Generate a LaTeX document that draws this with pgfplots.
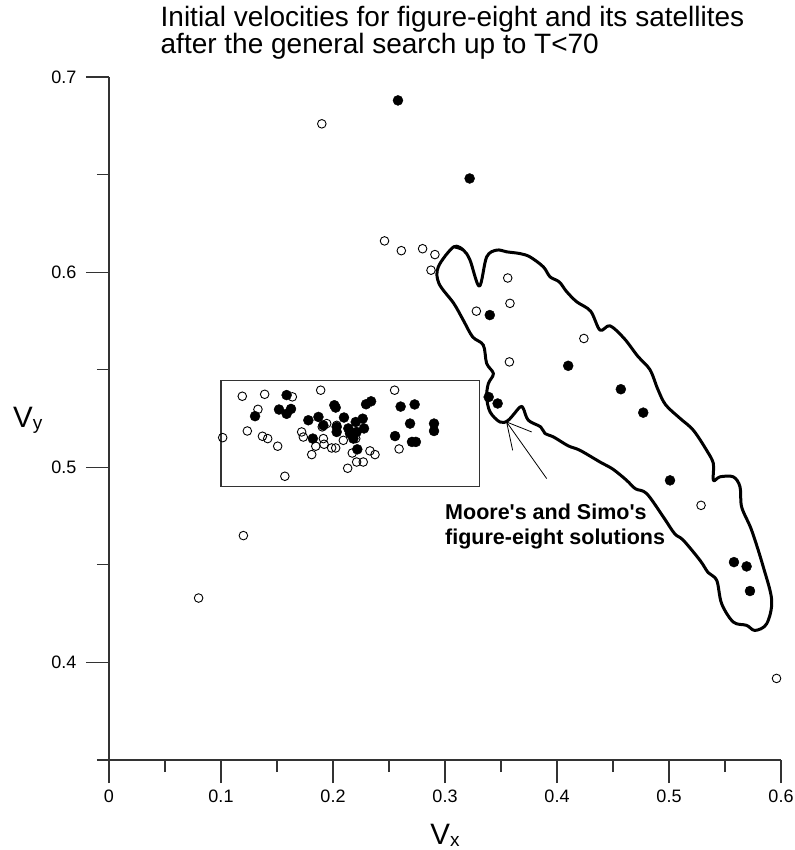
\documentclass[border=0pt]{standalone}
\usepackage{fontspec}
\setmainfont{Liberation Sans}
\usepackage{pgfplots}
\pgfplotsset{compat=1.18}

% open circles
\pgfplotstableread{
vx vy
0.080 0.433
0.120 0.465
0.190 0.676
0.246 0.616
0.261 0.611
0.280 0.612
0.291 0.609
0.2875 0.601
0.356 0.597
0.358 0.584
0.328 0.580
0.424 0.566
0.3575 0.554
0.5286 0.4805
0.596 0.3918
0.119 0.5364
0.139 0.5374
0.1637 0.5361
0.189 0.5395
0.255 0.5395
0.133 0.5297
0.1015 0.5152
0.1235 0.5186
0.137 0.5159
0.1417 0.5147
0.1506 0.5108
0.157 0.4954
0.172 0.5181
0.1735 0.5155
0.181 0.5065
0.1846 0.5108
0.1914 0.5147
0.192 0.5118
0.1904 0.5207
0.1944 0.5224
0.1988 0.5099
0.2024 0.5099
0.2033 0.5215
0.2092 0.5138
0.2131 0.4995
0.2172 0.5073
0.2211 0.5027
0.2270 0.5027
0.2330 0.5084
0.2375 0.5065
0.2590 0.5094
0.2203 0.5147
}\opendata

% filled circles
\pgfplotstableread{
vx vy
0.258 0.688
0.322 0.648
0.340 0.578
0.410 0.552
0.339 0.536
0.347 0.5327
0.457 0.540
0.477 0.528
0.5009 0.4933
0.558 0.4514
0.5693 0.4492
0.5723 0.4366
0.1304 0.5262
0.1518 0.5296
0.1586 0.5370
0.1586 0.5274
0.1625 0.5299
0.1780 0.5241
0.1820 0.5147
0.1870 0.5258
0.1914 0.5215
0.2012 0.5318
0.2024 0.5306
0.2033 0.5207
0.2033 0.5181
0.2098 0.5255
0.2137 0.5199
0.2152 0.5173
0.2182 0.5147
0.2203 0.5232
0.2211 0.5181
0.2265 0.5249
0.2277 0.5199
0.2295 0.5323
0.2340 0.5338
0.2217 0.5092
0.2604 0.5311
0.2729 0.5322
0.2554 0.5160
0.2688 0.5224
0.2705 0.5130
0.2740 0.5130
0.2902 0.5224
0.2902 0.5186
}\filleddata

% outline of the region round the figure-eight solutions
\pgfplotstableread{
vx vy
0.3078 0.6130
0.3164 0.6113
0.3223 0.6062
0.3307 0.5928
0.3372 0.6078
0.3462 0.6113
0.3551 0.6104
0.3670 0.6095
0.3759 0.6078
0.3878 0.6027
0.3938 0.5976
0.4020 0.5950
0.4086 0.5900
0.4176 0.5848
0.4300 0.5800
0.4384 0.5703
0.4473 0.5725
0.4600 0.5660
0.4720 0.5570
0.4830 0.5500
0.4900 0.5400
0.4970 0.5320
0.5100 0.5250
0.5217 0.5190
0.5336 0.5087
0.5396 0.5019
0.5396 0.4933
0.5455 0.4951
0.5574 0.4951
0.5634 0.4900
0.5649 0.4796
0.5738 0.4677
0.5842 0.4489
0.5917 0.4318
0.5872 0.4198
0.5768 0.4164
0.5693 0.4190
0.5574 0.4207
0.5470 0.4301
0.5426 0.4421
0.5350 0.4460
0.5277 0.4523
0.5128 0.4626
0.5050 0.4660
0.4950 0.4745
0.4801 0.4865
0.4700 0.4890
0.4622 0.4933
0.4500 0.4990
0.4384 0.5027
0.4205 0.5087
0.4100 0.5110
0.3970 0.5155
0.3893 0.5173
0.3854 0.5207
0.3744 0.5241
0.3700 0.5300
0.3670 0.5309
0.3565 0.5241
0.3491 0.5232
0.3402 0.5284
0.3372 0.5361
0.3387 0.5429
0.3432 0.5480
0.3372 0.5532
0.3342 0.5626
0.3247 0.5668
0.3163 0.5754
0.3078 0.5840
0.2946 0.5942
0.2940 0.6027
0.3078 0.6130
0.3164 0.6113
}\cloud

\begin{document}
\begin{tikzpicture}[x=1pt,y=1pt]
\path[use as bounding box] (0,0) rectangle (794,850);
\begin{axis}[
  at={(109pt,90pt)}, anchor=south west,
  scale only axis, width=672pt, height=683pt,
  xmin=0, xmax=0.6, ymin=0.35, ymax=0.7,
  axis x line=bottom, axis y line=left,
  axis line style={-, line width=1.2pt, draw=black!80},
  tick style={line width=1.2pt, draw=black!80},
  tick align=outside,
  major tick length=23pt, minor tick length=12pt,
  xtick={0,0.1,0.2,0.3,0.4,0.5,0.6},
  xticklabels={0,0.1,0.2,0.3,0.4,0.5,0.6},
  minor xtick={0.05,0.15,0.25,0.35,0.45,0.55},
  ytick={0.4,0.5,0.6,0.7},
  yticklabels={0.4,0.5,0.6,0.7},
  minor ytick={0.35,0.45,0.55,0.65},
  ticklabel style={font=\fontsize{18}{20}\selectfont},
  xticklabel style={yshift=-3pt},
  yticklabel style={xshift=-6pt},
  clip=false,
]
\addplot[only marks, mark=*, mark size=5pt, black] table[x=vx,y=vy] {\filleddata};
\addplot[only marks, mark=o, mark size=4.3pt, black, mark options={line width=0.9pt}] table[x=vx,y=vy] {\opendata};
\addplot[black!80, line width=1.2pt] coordinates {(0.1,0.49) (0.331,0.49) (0.331,0.5443) (0.1,0.5443) (0.1,0.49)};
\addplot[black, line width=3pt, smooth, tension=0.55, line join=round] table[x=vx,y=vy] {\cloud};
\addplot[black, line width=0.8pt] coordinates {(0.3604,0.5087) (0.355,0.5232) (0.3908,0.4942)};
\addplot[black, line width=0.8pt] coordinates {(0.355,0.5232) (0.3774,0.5181)};

\node[anchor=base west, inner sep=0, font=\fontsize{28}{30}\selectfont] at (axis description cs:0.0766,1.0732) {Initial velocities for figure-eight and its satellites};
\node[anchor=base west, inner sep=0, font=\fontsize{28}{30}\selectfont] at (axis description cs:0.0766,1.0351) {after the general search up to T<70};
\node[anchor=base west, inner sep=0, font=\fontsize{21.5}{24}\bfseries] at (axis description cs:0.5,0.3514) {Moore\textquotesingle s and Simo\textquotesingle s};
\node[anchor=base west, inner sep=0, font=\fontsize{21.5}{24}\bfseries] at (axis description cs:0.5,0.3148) {figure-eight solutions};
\node[anchor=base west, inner sep=0] at (axis description cs:-0.1429,0.4861) {\fontsize{29.5}{30}\selectfont V\raisebox{-2pt}{\fontsize{19}{20}\selectfont y}};
\node[anchor=base, inner sep=0] at (axis description cs:0.5,-0.124) {\fontsize{29.5}{30}\selectfont V\raisebox{-2pt}{\fontsize{19}{20}\selectfont x}};
\end{axis}
\end{tikzpicture}
\end{document}
